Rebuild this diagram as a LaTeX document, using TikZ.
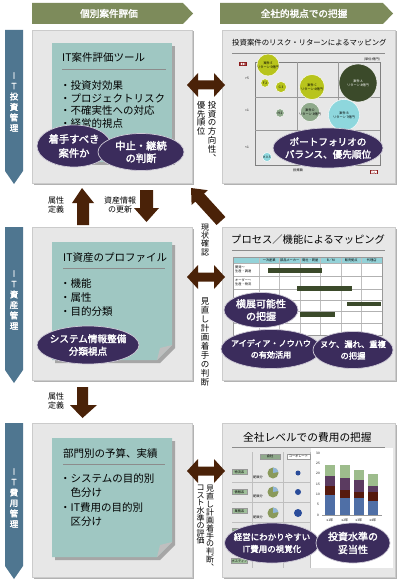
\documentclass[tikz,border=0pt]{standalone}
\usepackage{fontspec}
\setmainfont{Noto Sans CJK JP}[AutoFakeBold=2.2]
\usetikzlibrary{shapes.geometric}
\definecolor{hdr}{HTML}{7D8B5B}
\definecolor{blu}{HTML}{4F7690}
\definecolor{boxg}{HTML}{E7E7E7}
\definecolor{boxe}{HTML}{CBCBCB}
\definecolor{tealn}{HTML}{9FC7C2}
\definecolor{purp}{HTML}{3B2C5C}
\definecolor{brn}{HTML}{4A2208}
\definecolor{lime}{HTML}{B8C41C}
\definecolor{dkg}{HTML}{3B4A2A}
\definecolor{cyn}{HTML}{8ED7DD}
\definecolor{gg}{HTML}{8FA98B}
\definecolor{barb}{HTML}{4F6FA6}
\definecolor{barr}{HTML}{561A0E}
\definecolor{barp}{HTML}{5B3B60}
\definecolor{barg}{HTML}{9DBC8C}
\definecolor{tblh}{HTML}{94D2D8}
\definecolor{rlab}{HTML}{8B1A1A}
\definecolor{pieo}{HTML}{8A9A5B}
\definecolor{pieb}{HTML}{8FB5D8}
\definecolor{dotb}{HTML}{2A4C9A}
\definecolor{lab}{HTML}{9FBF9A}
\newcommand\fs[2]{\fontsize{#1}{#2}\selectfont\lineskiplimit=-20pt\lineskip=0pt}
\tikzset{
  graybox/.style={fill=boxg, draw=boxe, line width=0.6pt},
  shadowbox/.style={fill=black!30},
  notebox/.style={fill=tealn},
  ovalfill/.style={fill=purp, draw=white!75!purp, line width=0.7pt},
  ovaltext/.style={text=white, align=center, inner sep=0pt},
  hdrtext/.style={text=white, font=\bfseries\fs{9.6}{11}},
  vlab/.style={align=center, inner sep=0pt, anchor=north},
  bluetext/.style={text=white, font=\bfseries\fs{8.5}{10.5}, align=center, inner sep=0pt},
  notetitle/.style={anchor=west, font=\fs{10.5}{12}, inner sep=0pt},
  bullets/.style={anchor=north west, align=left, inner sep=0pt},
  rtitle/.style={anchor=west, inner sep=0pt},
  tiny/.style={font=\fs{3.2}{3.6}, inner sep=0pt, align=center},
  smlab/.style={font=\fs{8}{9.5}, align=center, inner sep=0pt},
}
% name, x, y, rx, ry, size, leading, text
\newcommand\ovl[8]{%
  \filldraw[ovalfill] (#2,#3) ellipse [x radius=#4, y radius=#5];
  \node[ovaltext, font=\bfseries\fs{#6}{#7}] (#1) at (#2,#3) {#8};}
\begin{document}
\begin{tikzpicture}[x=1pt,y=-1pt]
\useasboundingbox (0,0) rectangle (400,580);
\fill[white] (0,0) rectangle (400,580);

% ---------- header arrows ----------
\fill[hdr] (32,3) -- (183,3) -- (193,13.5) -- (183,24) -- (32,24) -- cycle;
\node[hdrtext] (h1) at (109,13.5) {個別案件評価};
\fill[hdr] (220,3) -- (383,3) -- (393,13.5) -- (383,24) -- (220,24) -- cycle;
\node[hdrtext] (h2) at (304,13.5) {全社的視点での把握};

% ---------- blue side arrows ----------
\fill[blu] (5,30) -- (23,30) -- (23,171) -- (14,184) -- (5,171) -- cycle;
\node[bluetext] (v1) at (14,102) {I\\T\\投\\資\\管\\理};
\fill[blu] (5,227) -- (23,227) -- (23,370) -- (14,383) -- (5,370) -- cycle;
\node[bluetext] (v2) at (14,300) {I\\T\\資\\産\\管\\理};
\fill[blu] (5,423) -- (23,423) -- (23,566) -- (14,579) -- (5,566) -- cycle;
\node[bluetext] (v3) at (14,498) {I\\T\\費\\用\\管\\理};

% ---------- gray boxes ----------
\foreach \ya/\yb in {30/183, 227/380, 423/577}{
  \fill[shadowbox] (33.5,\ya+1.5) rectangle (193.5,\yb+1.5);
  \filldraw[graybox] (32,\ya) rectangle (192,\yb);
  \fill[shadowbox] (223.5,\ya+1.5) rectangle (396.5,\yb+1.5);
  \filldraw[graybox] (222,\ya) rectangle (395,\yb);
}

% ---------- row 1 left: note ----------
\fill[black!35] (55,46) rectangle (175,165);
\fill[notebox] (52,43) rectangle (172,162);
\node[notetitle] (t1) at (62,58) {IT案件評価ツール};
\draw[black!45, line width=0.5pt] (62,69) -- (166,69);
\node[bullets, font=\fs{10.5}{12.7}] (b1) at (60,80.5) {・投資対効果\\・プロジェクトリスク\\・不確実性への対応\\・経営的視点};
\ovl{e1}{74}{146}{37}{21}{10.3}{14}{着手すべき\\案件か}
\ovl{e2}{141}{152}{43}{18.5}{10.3}{12.5}{中止・継続\\の判断}

% ---------- row 1 right: bubble chart ----------
\node[rtitle, font=\fs{7.4}{9}] (rt1) at (232,43) {投資案件のリスク・リターンによるマッピング};
\draw[black!45, line width=0.5pt] (232,53) -- (385,53);
\node[tiny] (unit) at (372,59) {(単位:億円)};
\draw[black!50, line width=0.5pt] (255,62) rectangle (380,165);
\draw[black!40, line width=0.4pt] (297,62) -- (297,165) (338,62) -- (338,165)
   (255,97) -- (380,97) (255,130) -- (380,130);
\node[fill=rlab, text=white, font=\bfseries\fs{3}{3.5}, inner sep=1pt] (roi) at (243,64) {ROI};
\node[fill=rlab, text=white, font=\bfseries\fs{3}{3.5}, inner sep=1pt] (inv) at (374,172) {投資};
\node[tiny] (y5) at (247,78) {>5};
\node[tiny] (y1) at (247,110) {=1};
\node[tiny] (y0) at (247,147) {<1};
\node[tiny] (xl) at (298,170) {投資額};
\fill[lime, draw=white, line width=0.4pt] (268,65) circle (11);
\node[tiny] (bE) at (268,65) {案件 E\\リターン 5億円};
\fill[lime, draw=white, line width=0.4pt] (265,83) circle (4.2);
\node[tiny] (bF) at (265,83) {F 2};
\fill[lime, draw=white, line width=0.4pt] (281,87) circle (5.5);
\node[tiny] (bG) at (281,87) {G 3};
\fill[lime, draw=white, line width=0.4pt] (312,87) circle (12.5);
\node[tiny] (bC) at (312,87) {案件 C\\リターン 6億円};
\fill[dkg, draw=white, line width=0.4pt] (358,83) circle (19);
\node[tiny, text=white] (bA) at (358,83) {案件 A\\リターン 8億円};
\fill[gg, draw=white, line width=0.4pt] (280,113) circle (4.2);
\node[tiny] (bH) at (280,113) {H 2};
\fill[gg, draw=white, line width=0.4pt] (310,112) circle (9.5);
\node[tiny] (bD) at (310,112) {案件 D\\リターン 3億円};
\fill[cyn, draw=white, line width=0.4pt] (344,115) circle (15.5);
\node[tiny] (bB) at (344,115) {案件 B\\リターン 7億円};
\fill[cyn, draw=white, line width=0.4pt] (267,157) circle (4.5);
\node[tiny] (bK) at (267,157) {K 0.5};
\ovl{e3}{328}{148}{55}{20}{9.6}{12.5}{ポートフォリオの\\バランス、優先順位}

% ---------- row 1 double arrow and labels ----------
\fill[brn] (187,85) -- (198,73) -- (198,80.5) -- (214,80.5) -- (214,73) -- (225,85)
   -- (214,97) -- (214,89.5) -- (198,89.5) -- (198,97) -- cycle;
\node[vlab, font=\fs{8.5}{8.8}] (l1a) at (212,101) {投\\資\\の\\方\\向\\性\\︑};
\node[vlab, font=\fs{8.5}{8.8}] (l1b) at (201,101) {優\\先\\順\\位};

% ---------- between row 1 and row 2 ----------
\fill[brn] (82,188) -- (94,203) -- (89,203) -- (89,225) -- (77,225) -- (77,203) -- (72,203) -- cycle;
\node[smlab] (a1) at (56,205) {属性\\定義};
\fill[brn] (140,190) -- (153,190) -- (153,208) -- (159,208) -- (146.5,222) -- (134,208) -- (140,208) -- cycle;
\node[smlab] (a2) at (120,205) {資産情報\\の更新};
\fill[brn] (225.4,217.0) -- (204.1,193.6) -- (207.8,190.2) -- (191,188) -- (191.6,205.0)
   -- (195.3,201.6) -- (216.6,225.0) -- cycle;
\node[vlab, font=\fs{8}{8.2}] (l2a) at (205,224) {現\\状\\確\\認};

% ---------- row 2 left ----------
\fill[black!35] (55,245) -- (175,245) -- (175,348) -- (160,363) -- (55,363) -- cycle;
\fill[notebox] (52,242) -- (172,242) -- (172,345) -- (157,360) -- (52,360) -- cycle;
\fill[black!25] (157,360) -- (160,348) -- (172,345) -- cycle;
\node[notetitle] (t2) at (63,258) {IT資産のプロファイル};
\draw[black!45, line width=0.5pt] (63,268) -- (165,268);
\node[bullets, font=\fs{10.5}{14}] (b2) at (60,278) {・機能\\・属性\\・目的分類};
\ovl{e4}{88}{345}{51}{19}{9.6}{12.5}{システム情報整備\\分類視点}

% ---------- row 2 double arrow ----------
\fill[brn] (187,277) -- (198,265) -- (198,272.5) -- (214,272.5) -- (214,265) -- (225,277)
   -- (214,289) -- (214,281.5) -- (198,281.5) -- (198,289) -- cycle;
\node[vlab, font=\fs{8.5}{9}] (l2b) at (205,297) {見\\直\\し\\計\\画\\着\\手\\の\\判\\断};

% ---------- row 2 right: table ----------
\node[rtitle, font=\fs{10.3}{12}] (rt2) at (231,240) {プロセス／機能によるマッピング};
\draw[black!45, line width=0.5pt] (232,250) -- (385,250);
\fill[white] (233,257) rectangle (382,335);
\fill[tblh] (233,257) rectangle (382,263);
\foreach \x in {259,279.5,300,320.5,341,361.5}{\draw[black!25, line width=0.4pt] (\x,257) -- (\x,335);}
\foreach \y in {263,276,289,300,311,323}{\draw[black!30, line width=0.4pt] (233,\y) -- (382,\y);}
\draw[black!40, line width=0.4pt] (233,257) rectangle (382,335);
\node[tiny] (c1) at (269.2,260) {一次産業};
\node[tiny] (c2) at (289.7,260) {部品メーカー};
\node[tiny] (c3) at (310.2,260) {商社・問屋};
\node[tiny] (c4) at (330.7,260) {B／M};
\node[tiny] (c5) at (351.2,260) {販売拠点};
\node[tiny] (c6) at (371.7,260) {代理店};
\node[tiny, anchor=west, align=left] (r1) at (235,269.5) {開発〜\\生産・調達};
\node[tiny, anchor=west, align=left] (r2) at (235,282.5) {オーダー〜\\生産・物流};
\fill[dkg] (268,268) rectangle (322,273);
\fill[dkg] (297,286) rectangle (352,291);
\fill[dkg] (347,302) rectangle (381,306);
\fill[dkg] (300,312) rectangle (335,317);
\ovl{e5}{261}{310}{37}{17.5}{10}{12.5}{横展可能性\\の把握}
\ovl{e6}{271}{349}{50}{19.5}{8.1}{11.5}{アイディア・ノウハウ\\の有効活用}
\ovl{e7}{353}{350}{40}{18.5}{8.3}{11.5}{ヌケ、漏れ、重複\\の把握}

% ---------- between row 2 and row 3 ----------
\fill[brn] (77,387) -- (88,387) -- (88,405) -- (97,405) -- (82.5,418) -- (70,405) -- (77,405) -- cycle;
\node[smlab] (a3) at (56,401) {属性\\定義};

% ---------- row 3 left ----------
\fill[black!35] (55,441) -- (175,441) -- (175,545) -- (160,560) -- (55,560) -- cycle;
\fill[notebox] (52,438) -- (172,438) -- (172,542) -- (157,557) -- (52,557) -- cycle;
\fill[black!25] (157,557) -- (160,545) -- (172,542) -- cycle;
\node[notetitle] (t3) at (63,453) {部門別の予算、実績};
\draw[black!45, line width=0.5pt] (63,464) -- (165,464);
\node[bullets, font=\fs{10.5}{14.5}] (b3) at (60,473) {・システムの目的別\\\hspace*{10.5pt}色分け\\・IT費用の目的別\\\hspace*{10.5pt}区分け};

% ---------- row 3 double arrow ----------
\fill[brn] (187,471) -- (198,459) -- (198,466.5) -- (214,466.5) -- (214,459) -- (225,471)
   -- (214,483) -- (214,475.5) -- (198,475.5) -- (198,483) -- cycle;
\node[vlab, font=\fs{8}{7.9}] (l3a) at (210,485) {見\\直\\し\\計\\画\\着\\手\\の\\判\\断\\︑};
\node[vlab, font=\fs{8}{7.6}] (l3b) at (200.5,485) {コ\\ス\\ト\\水\\準\\の\\評\\価};

% ---------- row 3 right ----------
\node[rtitle, font=\fs{10.7}{12}] (rt3) at (243,437) {全社レベルでの費用の把握};
\draw[black!45, line width=0.5pt] (232,447) -- (385,447);
\fill[white] (311,448) rectangle (393,568);
\draw[black!25, line width=0.4pt] (252,452) -- (252,568) (283,452) -- (283,568) (310,452) -- (310,568);
\foreach \y in {482,502,522,542}{\draw[black!25, line width=0.4pt] (232,\y) -- (310,\y);}
\node[fill=gg, draw=black!40, line width=0.3pt, font=\fs{3.2}{3.6}, minimum width=20pt, minimum height=5pt, inner sep=0pt] (k1) at (270,456.5) {会社};
\node[fill=white, draw=black!40, line width=0.3pt, font=\fs{3.2}{3.6}, minimum width=23pt, minimum height=5pt, inner sep=0pt] (k2) at (298.5,456.5) {コーポレート};
\foreach \y/\t in {472/物流系, 492/情報系, 511/業務系, 531/サービス, 561/ポスティア}{
  \node[fill=lab, draw=black!40, line width=0.3pt, font=\fs{3.2}{3.6}, minimum width=15pt, minimum height=5pt, inner sep=0pt] at (239.5,\y) {\t};
}
\foreach \y/\r in {473/2.5, 492/3, 513/4}{
  \fill[pieo] (273,\y) circle (5.5);
  \fill[pieb] (273,\y) -- ++(0,-5.5) arc (-90:-10:5.5) -- cycle;
  \node[tiny] at (258,\y+4) {配賦分};
  \fill[dotb] (298,\y) circle (\r);
}
% bar chart
\foreach \v/\yy in {30/453,25/463.3,20/473.7,15/484,10/494.3,5/504.7,0/515}{
  \node[tiny] at (318,\yy) {\v};
}
\draw[black!40, line width=0.3pt] (322,515) -- (382,515);
\newcommand\stackbar[5]{%
  \fill[barb] (#1,515) rectangle (#1+10,515-2.067*#2);
  \fill[barr] (#1,515-2.067*#2) rectangle (#1+10,515-2.067*#3);
  \fill[barp] (#1,515-2.067*#3) rectangle (#1+10,515-2.067*#4);
  \fill[barg] (#1,515-2.067*#4) rectangle (#1+10,515-2.067*#5);}
\stackbar{325}{9.5}{14}{19}{24}
\stackbar{340}{8}{12}{18}{24}
\stackbar{354}{8}{11}{17}{22}
\stackbar{368}{7}{11}{14}{20}
\node[tiny] (x1) at (330,520) {x1年};
\node[tiny] (x2) at (345,520) {x2年};
\node[tiny] (x3) at (359,520) {x3年};
\node[tiny] (x4) at (373,520) {x4年};
\ovl{e8}{272}{543}{47.5}{20}{8.5}{12}{経営にわかりやすい\\IT費用の視覚化}
\ovl{e9}{353}{543}{37}{20}{10}{13}{投資水準の\\妥当性}
\end{tikzpicture}
\end{document}
